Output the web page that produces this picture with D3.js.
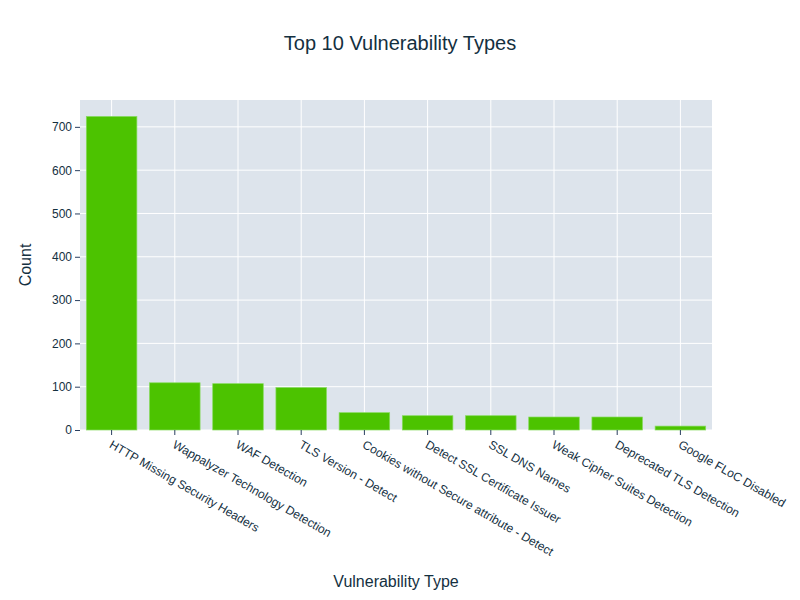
<!DOCTYPE html>
<html><head><meta charset="utf-8">
<script src="https://cdn.jsdelivr.net/npm/d3@7"></script>
<style>body{margin:0;background:#fff}svg{display:block;font-family:"Liberation Sans",Arial,sans-serif}</style>
</head><body><svg id="c" width="800" height="600"></svg>
<script>
const categories = ["HTTP Missing Security Headers","Wappalyzer Technology Detection","WAF Detection","TLS Version - Detect","Cookies without Secure attribute - Detect","Detect SSL Certificate Issuer","SSL DNS Names","Weak Cipher Suites Detection","Deprecated TLS Detection","Google FLoC Disabled"];
const counts = [724, 109, 107, 98, 40, 33, 33, 30, 30, 9];
const yTicks = [0,100,200,300,400,500,600,700];

const svg = d3.select("#c");
const L=80,R=712,T=100,B=430;
const textColor="#14303f";
const x = d3.scaleBand().domain(categories).range([L,R]).paddingInner(0.2).paddingOuter(0.1);
const y = d3.scaleLinear().domain([0,762]).range([B,T]);

svg.append("rect").attr("x",L).attr("y",T).attr("width",R-L).attr("height",B-T).attr("fill","#dde4ec");

// grid
svg.append("g").selectAll("line").data(yTicks).join("line")
  .attr("x1",L).attr("x2",R).attr("y1",d=>y(d)).attr("y2",d=>y(d))
  .attr("stroke","#fff").attr("stroke-width",1);
svg.append("g").selectAll("line").data(categories).join("line")
  .attr("x1",d=>x(d)+x.bandwidth()/2).attr("x2",d=>x(d)+x.bandwidth()/2).attr("y1",T).attr("y2",B)
  .attr("stroke","#fff").attr("stroke-width",1);

// bars
svg.append("g").selectAll("rect").data(categories).join("rect")
  .attr("x",d=>x(d)).attr("width",x.bandwidth())
  .attr("y",(d,i)=>y(counts[i])).attr("height",(d,i)=>B-y(counts[i]))
  .attr("fill","#4cc300").attr("stroke","#86db5e").attr("stroke-width",0.7);

// y axis
const ya = svg.append("g").attr("transform",`translate(${L},0)`)
  .call(d3.axisLeft(y).tickValues(yTicks).tickSize(5).tickPadding(3).tickFormat(d3.format("d")));
ya.select(".domain").remove();
ya.selectAll("line").attr("stroke","#2a3f5f");
ya.selectAll("text").attr("fill",textColor).style("font-size","12px").style("font-family","Liberation Sans, Arial, sans-serif");

// x axis
const xa = svg.append("g").attr("transform",`translate(0,${B})`)
  .call(d3.axisBottom(x).tickSize(5).tickPadding(0));
xa.select(".domain").remove();
xa.selectAll("line").attr("stroke","#2a3f5f");
xa.selectAll("text").attr("fill",textColor).style("font-size","12px").style("font-family","Liberation Sans, Arial, sans-serif")
  .attr("text-anchor","start").attr("dy",null).attr("y",0)
  .attr("transform","translate(-3,17) rotate(30)");

// titles
svg.append("text").attr("x",400).attr("y",50).attr("text-anchor","middle").attr("fill",textColor)
  .style("font-size","20px").text("Top 10 Vulnerability Types");
svg.append("text").attr("x",396).attr("y",587).attr("text-anchor","middle").attr("fill",textColor)
  .style("font-size","16px").text("Vulnerability Type");
svg.append("text").attr("transform","translate(31,265) rotate(-90)").attr("text-anchor","middle").attr("fill",textColor)
  .style("font-size","16px").text("Count");
</script></body></html>
